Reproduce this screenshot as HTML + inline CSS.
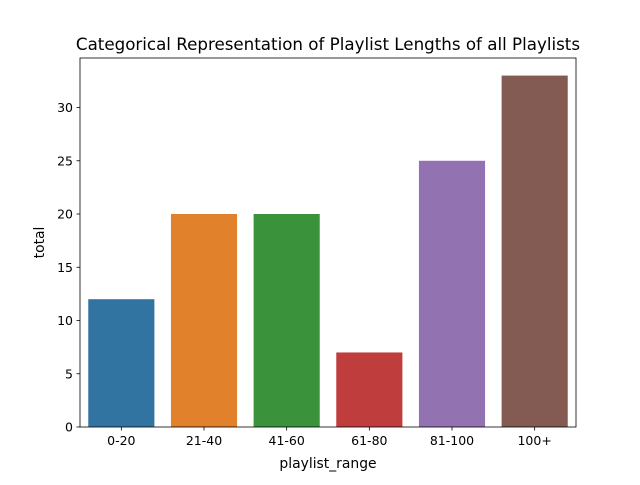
<!DOCTYPE html>
<html><head><meta charset="utf-8"><style>
body{margin:0;background:#fff;}
svg text{font-family:"DejaVu Sans","Liberation Sans",sans-serif;fill:#000;}
</style></head><body>
<svg id="chart" width="640" height="480" xmlns="http://www.w3.org/2000/svg">
<rect width="640" height="480" fill="#fff"/>
<text x="328" y="50" font-size="16.7" text-anchor="middle">Categorical Representation of Playlist Lengths of all Playlists</text>
<g id="bars"></g><g id="axes"></g>
<text x="328" y="468" font-size="13.9" text-anchor="middle">playlist_range</text>
<text transform="translate(44,242.5) rotate(-90)" font-size="13.9" text-anchor="middle">total</text>
</svg>
<script>
const categories=["0-20","21-40","41-60","61-80","81-100","100+"];
const values=[12,20,20,7,25,33];
const colors=["#3274a1","#e1812c","#3a923a","#c03d3e","#9372b2","#845b53"];
const yTicks=[0,5,10,15,20,25,30];
const L=80,R=576,T=58,B=427;
const ymax=Math.max(...values)*1.05;
const y=v=>B-(v/ymax)*(B-T);
const xs=i=>L+(i+0.5)*(R-L)/categories.length;
const bw=0.8*(R-L)/categories.length;
const NS="http://www.w3.org/2000/svg";
const bars=document.getElementById('bars'),axes=document.getElementById('axes');
function mk(t,a,p){const e=document.createElementNS(NS,t);for(const k in a)e.setAttribute(k,a[k]);p.appendChild(e);return e;}
values.forEach((v,i)=>{
 const r=mk('rect',{x:xs(i)-bw/2,y:y(v),width:bw,height:B-y(v),fill:colors[i]},bars);
 
 
 mk('line',{x1:xs(i),x2:xs(i),y1:B,y2:B+3.5,stroke:'#000','stroke-width':0.8},axes);
 const t=mk('text',{x:xs(i),y:B+18,'font-size':12.5,'text-anchor':'middle'},axes);
 t.textContent=categories[i];
 
 
});
yTicks.forEach(v=>{
 mk('line',{x1:L-3.5,x2:L,y1:y(v),y2:y(v),stroke:'#000','stroke-width':0.8},axes);
 const t=mk('text',{x:L-7,y:y(v)+4.5,'font-size':12.5,'text-anchor':'end'},axes);
 t.textContent=v;
 
 
});
const f=mk('rect',{x:L,y:T,width:R-L,height:B-T,fill:'none',stroke:'#000','stroke-width':0.8},axes);


</script>
</body></html>
